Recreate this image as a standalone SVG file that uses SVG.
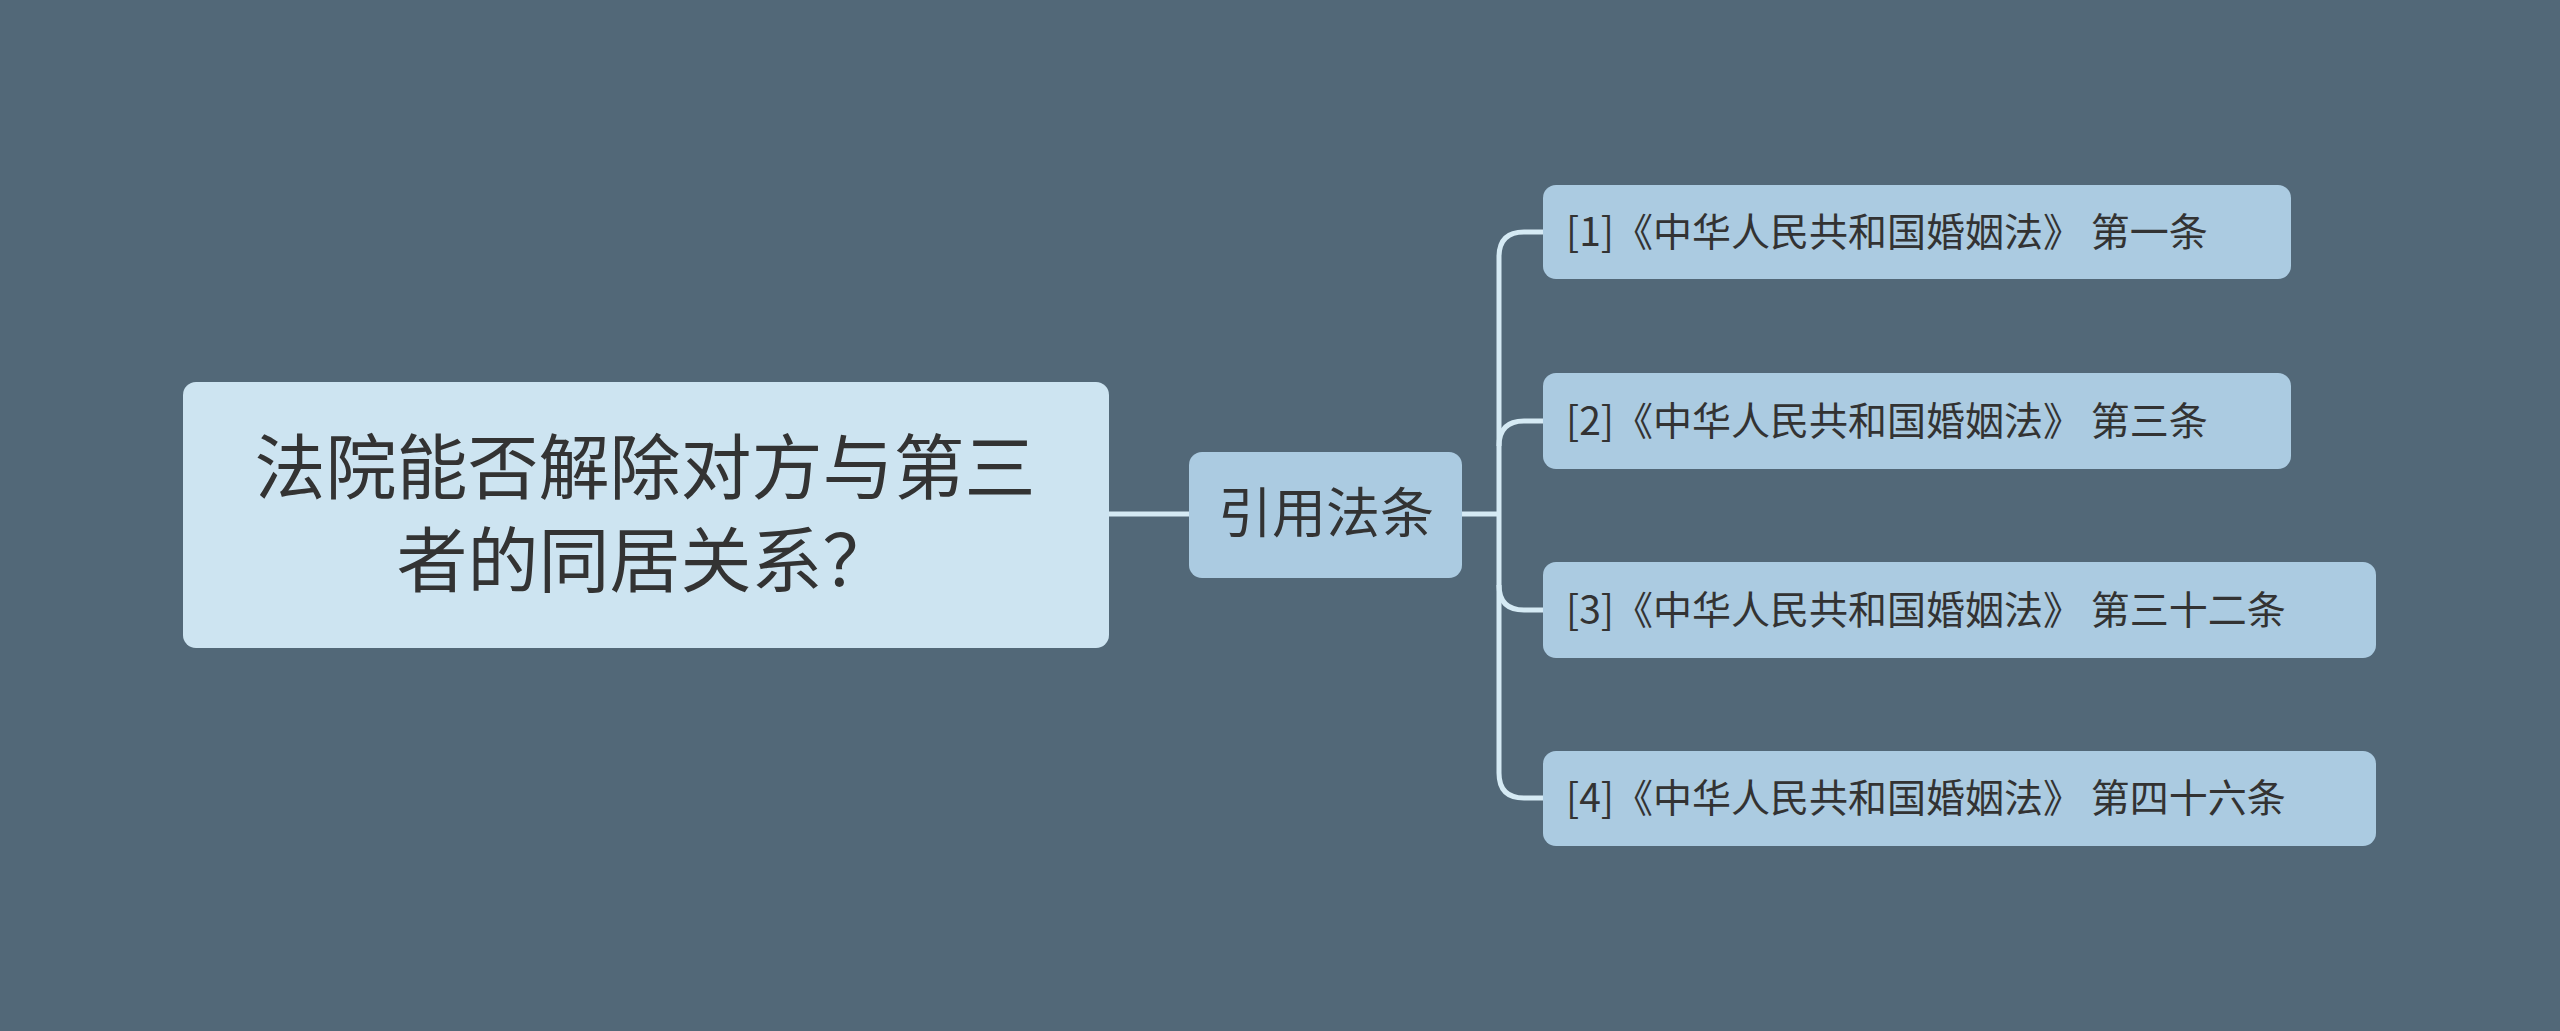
<svg xmlns="http://www.w3.org/2000/svg" width="2560" height="1031" viewBox="0 0 2560 1031">
<style>
text{font-family:"Noto Sans CJK SC","Noto Sans",sans-serif;fill:#333333}
.leaf rect{fill:#abcbe1}
.leaf text{font-size:39px}
.c{fill:none;stroke:#d5eaf4;stroke-width:5}
</style>
<rect width="2560" height="1031" fill="#526878"/>
<g id="connectors">
<path class="c" d="M1109 514H1189"/>
<path class="c" d="M1462 514H1499"/>
<path class="c" d="M1543 232H1524Q1499 232 1499 257V773Q1499 798 1524 798H1543"/>
<path class="c" d="M1499 446Q1499 421 1524 421H1543"/>
<path class="c" d="M1499 585Q1499 610 1524 610H1543"/>
</g>
<g id="root"><rect x="183" y="382" width="926" height="266" rx="13" fill="#cde4f1"/>
<text x="645" y="493" font-size="71" text-anchor="middle">法院能否解除对方与第三</text>
<text x="645" y="586" font-size="71" text-anchor="middle">者的同居关系？</text></g>
<g id="mid"><rect x="1189" y="452" width="273" height="126" rx="13" fill="#abcbe1"/>
<text x="1326" y="533" font-size="54" text-anchor="middle">引用法条</text></g>
<g id="l1" class="leaf"><rect x="1543" y="185" width="748" height="94" rx="13"/><text x="1566" y="246">[1]《中华人民共和国婚姻法》 第一条</text></g>
<g id="l2" class="leaf"><rect x="1543" y="373" width="748" height="96" rx="13"/><text x="1566" y="435">[2]《中华人民共和国婚姻法》 第三条</text></g>
<g id="l3" class="leaf"><rect x="1543" y="562" width="833" height="96" rx="13"/><text x="1566" y="624">[3]《中华人民共和国婚姻法》 第三十二条</text></g>
<g id="l4" class="leaf"><rect x="1543" y="751" width="833" height="95" rx="13"/><text x="1566" y="812">[4]《中华人民共和国婚姻法》 第四十六条</text></g>
</svg>
